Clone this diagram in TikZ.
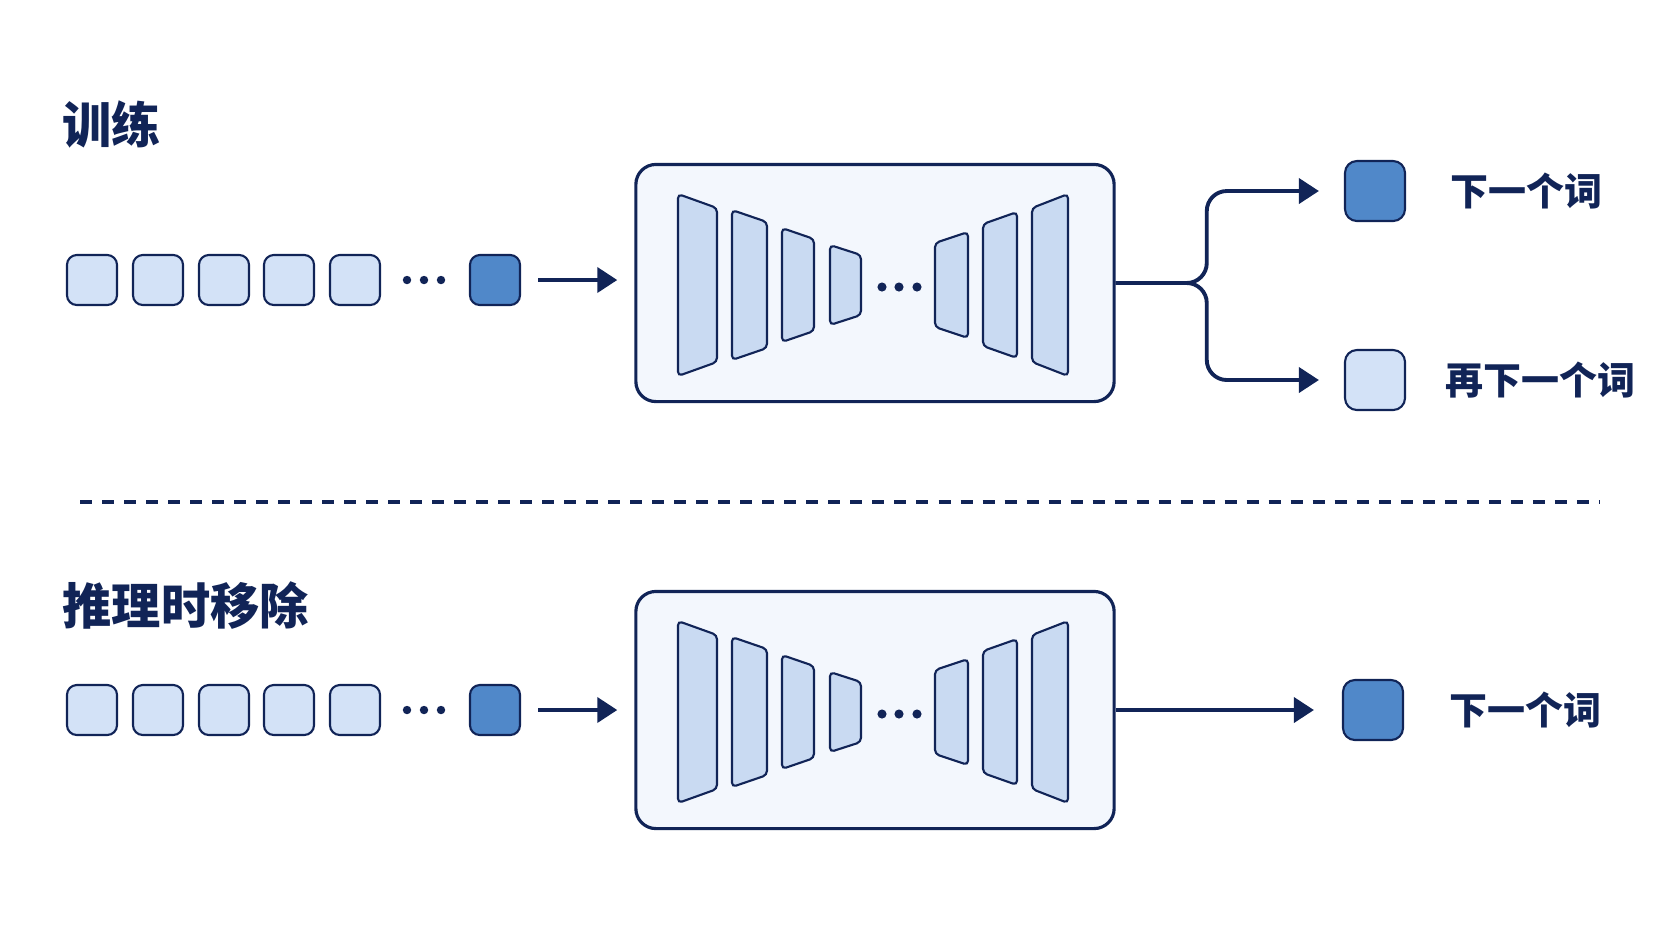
\documentclass[tikz,border=0pt]{standalone}
\usepackage{fontspec}
\newfontfamily\cjk{Noto Sans CJK SC}
\usetikzlibrary{arrows.meta}
\definecolor{navy}{HTML}{112457}
\definecolor{tokfill}{HTML}{D3E2F7}
\definecolor{tokdark}{HTML}{5088C9}
\definecolor{modelfill}{HTML}{F3F7FD}
\definecolor{layerfill}{HTML}{C9DAF2}
\tikzset{
	title/.style={font=\cjk\bfseries\fontsize{14pt}{16pt}\selectfont, text=navy, anchor=west, inner sep=0},
	wordlabel/.style={font=\cjk\bfseries\fontsize{10.8pt}{13pt}\selectfont, text=navy, anchor=west, inner sep=0},
	tok/.style={draw=navy, fill=tokfill, line width=0.6pt, rounded corners=2.8pt, minimum size=0.5cm, inner sep=0},
	outbox/.style={tok, minimum size=0.6cm, rounded corners=3.4pt},
	model/.style={draw=navy, fill=modelfill, line width=0.9pt, rounded corners=0.2cm, minimum width=4.78cm, minimum height=2.37cm, inner sep=0},
	layer/.style={draw=navy, fill=layerfill, line width=0.6pt, rounded corners=1.2pt},
	arr/.style={navy, line width=1.1pt, -{Triangle[length=0.2cm, width=0.25cm]}},
	sep/.style={navy, line width=0.9pt, dash pattern=on 0.12cm off 0.1cm}
}
\newcommand{\netlayer}[5] % left x, right x, left half height, right half height, centre y
{
	\draw[layer] (#1,#5-#3) -- (#2,#5-#4) -- (#2,#5+#4) -- (#1,#5+#3) -- cycle;
}
\newcommand{\netstack}[1] % centre y of the layers
{
	% shrinking half
	\netlayer{678}{717}{91}{77}{#1}
	\netlayer{732}{767}{75}{63}{#1}
	\netlayer{782}{814}{57}{46}{#1}
	\netlayer{830}{861}{40}{30}{#1}
	% dots
	\foreach \x in {882,899,917}
		\fill[navy] (\x,#1+2) circle (1.3pt);
	% growing half
	\netlayer{935}{968}{42}{53}{#1}
	\netlayer{983}{1017}{61}{73}{#1}
	\netlayer{1032}{1068}{77}{91}{#1}
}

\begin{document}
\begin{tikzpicture}[x=0.01cm, y=-0.01cm]
	\useasboundingbox (0,0) rectangle (1672,941);
	
	% training
	\node[title] (train) at (62,124) {训练};
	\foreach \i/\x in {1/92,2/158,3/224,4/289,5/355}
		\node[tok] (a\i) at (\x,280) {};
	\foreach \x in {407,424,441}
		\fill[navy] (\x,280) circle (1.2pt);
	\node[tok, fill=tokdark] (alast) at (495,280) {};
	
	\node[model] (m1) at (875,283) {};
	\netstack{285}
	\draw[arr, shorten <=0.17cm, shorten >=0.17cm] (alast.east) -- (alast.east -| m1.west);
	
	\node[outbox, fill=tokdark] (next1) at (1375,191) {};
	\node[outbox] (next2) at (1375,380) {};
	\coordinate (split1) at ([xshift=0.91cm]m1.east);
	\draw[arr, rounded corners=0.2cm, shorten >=0.25cm] (m1.east) -- (split1) |- (next1.west);
	\draw[arr, rounded corners=0.2cm, shorten >=0.25cm] (m1.east) -- (split1) |- (next2.west);
	\node[wordlabel] (lab1) at ([xshift=0.44cm]next1.east) {下一个词};
	\node[wordlabel] (lab2) at ([xshift=0.39cm]next2.east) {再下一个词};
	
	% separator
	\draw[sep] (80,502) -- (1600,502);
	
	% inference
	\node[title] (infer) at (62,606) {推理时移除};
	\foreach \i/\x in {1/92,2/158,3/224,4/289,5/355}
		\node[tok] (b\i) at (\x,710) {};
	\foreach \x in {407,424,441}
		\fill[navy] (\x,710) circle (1.2pt);
	\node[tok, fill=tokdark] (blast) at (495,710) {};
	
	\node[model] (m2) at (875,710) {};
	\netstack{712}
	\draw[arr, shorten <=0.17cm, shorten >=0.17cm] (blast.east) -- (blast.east -| m2.west);
	
	\node[outbox, fill=tokdark] (next3) at (1373,710) {};
	\draw[arr, shorten >=0.28cm] (m2.east) -- (next3.west);
	\node[wordlabel] (lab3) at ([xshift=0.45cm]next3.east) {下一个词};
	
\end{tikzpicture}
\end{document}
